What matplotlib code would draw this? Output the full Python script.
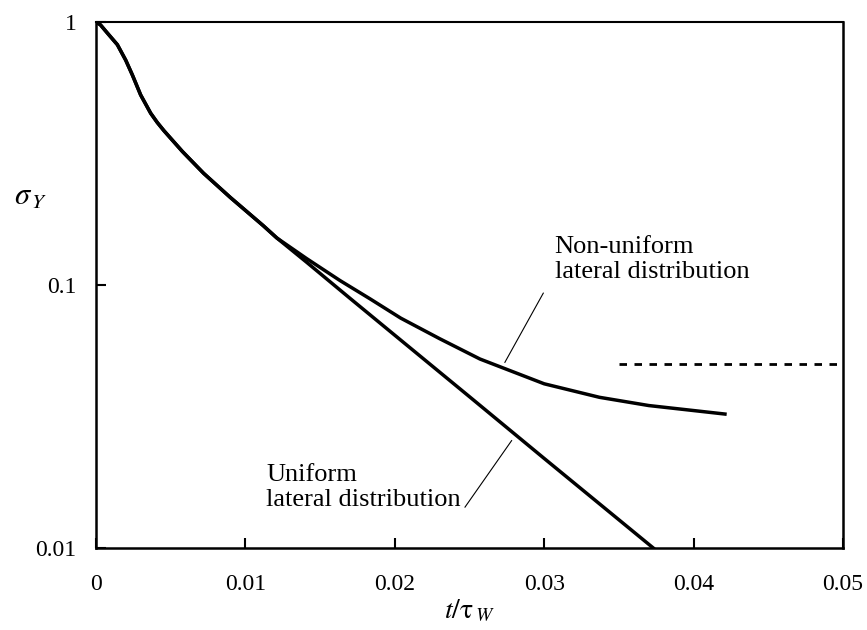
import matplotlib
matplotlib.use("Agg")
import matplotlib.pyplot as plt

plt.rcParams["font.family"] = "Liberation Serif"
plt.rcParams["mathtext.fontset"] = "stix"

# Shared early decay (both distributions coincide up to t ~ 0.012)
t_common = [0.0, 0.0003, 0.00076, 0.00143, 0.00199, 0.00243, 0.00299, 0.00366,
            0.0041, 0.00455, 0.00578, 0.0072, 0.009, 0.0112, 0.0121]
sig_common = [1.0, 0.975, 0.908, 0.82, 0.716, 0.63, 0.528, 0.450,
              0.415, 0.386, 0.322, 0.266, 0.215, 0.168, 0.151]

# Uniform lateral distribution: straight decay on the log axis
t_uniform = [0.0141, 0.0170, 0.0204, 0.0250, 0.0300, 0.0373]
sig_uniform = [0.122, 0.0890, 0.0617, 0.0376, 0.0219, 0.0100]

# Non-uniform lateral distribution: levels off towards ~0.03
t_nonuni = [0.0141, 0.01633, 0.01834, 0.0204, 0.0230, 0.0257, 0.0300,
            0.0337, 0.0370, 0.0421]
sig_nonuni = [0.126, 0.104, 0.0886, 0.0748, 0.0625, 0.0523, 0.0421,
              0.0374, 0.0348, 0.0323]

# Asymptotic level
t_asym = [0.035, 0.05]
sig_asym = [0.05, 0.05]

xticks = [0, 0.01, 0.02, 0.03, 0.04, 0.05]
xticklabels = ["0", "0.01", "0.02", "0.03", "0.04", "0.05"]
yticks = [0.01, 0.1, 1]
yticklabels = ["0.01", "0.1", "1"]

fig = plt.figure(figsize=(8.67, 6.3), dpi=100)
ax = fig.add_axes([0.1107, 0.1302, 0.8616, 0.8349])

ax.plot(t_common + t_uniform, sig_common + sig_uniform, color="black", lw=2.5,
        solid_joinstyle="round")
ax.plot(t_common + t_nonuni, sig_common + sig_nonuni, color="black", lw=2.5,
        solid_joinstyle="round")
ax.plot(t_asym, sig_asym, color="black", lw=2.0, linestyle=(0, (2.7, 2.7)))

ax.set_yscale("log")
ax.set_xlim(0, 0.05)
ax.set_ylim(0.01, 1)
ax.set_xticks(xticks)
ax.set_xticklabels(xticklabels)
ax.set_yticks(yticks)
ax.set_yticklabels(yticklabels)
ax.minorticks_off()
ax.tick_params(direction="in", length=7, width=1.5, labelsize=17)
ax.tick_params(axis="x", pad=19)
ax.tick_params(axis="y", pad=14)

for sp in ax.spines.values():
    sp.set_linewidth(1.8)
ax.spines["top"].set_linewidth(1.5)

# Curve labels with leader lines
ax.text(0.0307, 0.125, "Non-uniform\nlateral distribution", fontsize=19,
        va="center", ha="left", linespacing=1.17)
ax.plot([0.02737, 0.02994], [0.0508, 0.0931], color="black", lw=0.8)

ax.text(0.01138, 0.017, "Uniform\nlateral distribution", fontsize=19,
        va="center", ha="left", linespacing=1.17)
ax.plot([0.0247, 0.02782], [0.0143, 0.0256], color="black", lw=0.8)

ax.set_xlabel(r"$t/\mathrm{\tau}_{\,W}$", fontsize=20, labelpad=2)
ax.set_ylabel(r"$\sigma_{\,Y}$", fontsize=22, rotation=0, va="center")
ax.yaxis.set_label_coords(-0.088, 0.667)

fig.savefig("out.png", dpi=100)
